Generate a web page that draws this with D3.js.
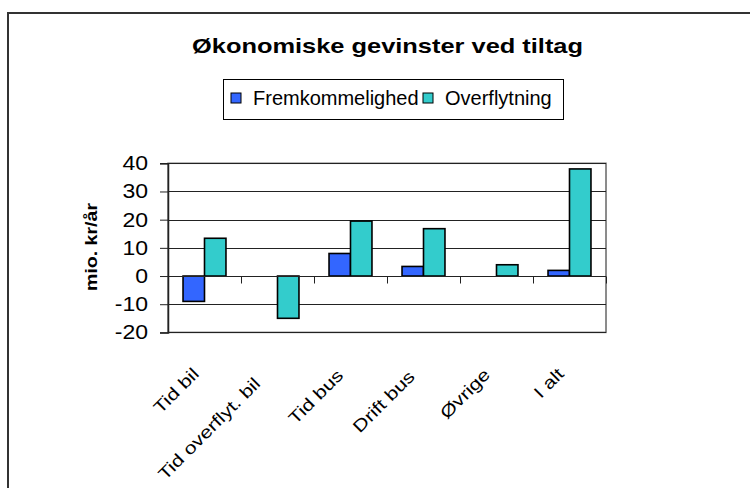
<!DOCTYPE html>
<html>
<head>
<meta charset="utf-8">
<script src="https://cdn.jsdelivr.net/npm/d3@7"></script>
<style>
  html, body { margin: 0; padding: 0; background: #fff; }
  svg { display: block; font-family: "Liberation Sans", Arial, sans-serif; }
</style>
</head>
<body>
<svg id="chart"></svg>
<script>
var categories = ["Tid bil", "Tid overflyt. bil", "Tid bus", "Drift bus", "Øvrige", "I alt"];
var seriesNames = ["Fremkommelighed", "Overflytning"];
var fremkommelighed = [-9, 0, 8, 3.4, 0, 2];
var overflytning = [13.4, -15, 19.5, 16.8, 4, 38];
var yTicks = [-20, -10, 0, 10, 20, 30, 40];
var seriesColors = ["#3366ff", "#33cccc"];

var iWidth = 750, iHeight = 488;
var oMargin = { top: 163.3, right: 144, bottom: 155.6, left: 168 };

var oSvg = d3.select("#chart").attr("width", iWidth).attr("height", iHeight);

// widen glyphs a bit, the source chart used a wide rendering of Arial
function stretch(oSel, k) {
  oSel.each(function () {
    var w = this.getComputedTextLength();
    d3.select(this).attr("textLength", w * k).attr("lengthAdjust", "spacingAndGlyphs");
  });
}

// outer chart border (runs off right/bottom)
oSvg.append("rect")
  .attr("x", 8).attr("y", 13)
  .attr("width", 760).attr("height", 500)
  .attr("fill", "none").attr("stroke", "#333").attr("stroke-width", 2);

// title
oSvg.append("text")
  .attr("x", 387.5).attr("y", 53)
  .attr("text-anchor", "middle")
  .attr("font-weight", "bold").attr("font-size", 21)
  .attr("textLength", 391).attr("lengthAdjust", "spacingAndGlyphs")
  .text("Økonomiske gevinster ved tiltag");

var aData = categories.map(function (c, i) {
  return { name: c, values: [fremkommelighed[i], overflytning[i]] };
});

var oScaleX = d3.scaleBand()
  .domain(categories)
  .range([oMargin.left, iWidth - oMargin.right])
  .padding(0);

var oScaleX1 = d3.scaleBand()
  .domain(seriesNames)
  .range([0, oScaleX.bandwidth()])
  .paddingInner(0).paddingOuter(0.7);

var oScaleY = d3.scaleLinear()
  .domain([-20, 40])
  .range([iHeight - oMargin.bottom, oMargin.top]);

var x0 = oMargin.left, x1 = iWidth - oMargin.right;

// plot area border
oSvg.append("rect")
  .attr("x", x0).attr("y", oScaleY(40))
  .attr("width", x1 - x0).attr("height", oScaleY(-20) - oScaleY(40))
  .attr("fill", "none").attr("stroke", "#666").attr("stroke-width", 1.5);

// gridlines
oSvg.append("g")
  .selectAll("line")
  .data(yTicks.filter(function (d) { return d !== 0; }))
  .enter().append("line")
  .attr("x1", x0).attr("x2", x1)
  .attr("y1", function (d) { return Math.round(oScaleY(d)) + 0.5; })
  .attr("y2", function (d) { return Math.round(oScaleY(d)) + 0.5; })
  .attr("stroke", "#222").attr("stroke-width", 1);

// y axis
var oYAxis = oSvg.append("g")
  .attr("transform", "translate(" + x0 + ",0)")
  .call(d3.axisLeft(oScaleY).tickValues(yTicks).tickSize(8).tickPadding(12)
    .tickFormat(function (d) { return String(d); }));
oYAxis.select(".domain").attr("stroke", "#222").attr("stroke-width", 1.5);
oYAxis.selectAll(".tick line").attr("stroke", "#222");
oYAxis.selectAll(".tick text")
  .attr("font-size", 20).attr("fill", "#000")
  .attr("font-family", "Liberation Sans, Arial, sans-serif")
  .call(stretch, 1.15);

// bars
var oGroups = oSvg.append("g")
  .selectAll("g")
  .data(aData)
  .enter().append("g")
  .attr("transform", function (d) { return "translate(" + oScaleX(d.name) + ",0)"; });

oGroups.selectAll("rect")
  .data(function (d) {
    return d.values.map(function (v, i) { return { key: seriesNames[i], value: v, i: i }; })
      .filter(function (o) { return o.value !== 0; });
  })
  .enter().append("rect")
  .attr("x", function (d) { return oScaleX1(d.key); })
  .attr("width", oScaleX1.bandwidth())
  .attr("y", function (d) { return oScaleY(Math.max(0, d.value)); })
  .attr("height", function (d) { return Math.abs(oScaleY(d.value) - oScaleY(0)); })
  .attr("fill", function (d) { return seriesColors[d.i]; })
  .attr("stroke", "#000").attr("stroke-width", 1.6);

// category axis at zero
var yZero = Math.round(oScaleY(0)) + 0.5;
oSvg.append("line")
  .attr("x1", x0).attr("x2", x1)
  .attr("y1", yZero).attr("y2", yZero)
  .attr("stroke", "#222").attr("stroke-width", 1.2);

oSvg.append("g")
  .selectAll("line")
  .data(categories)
  .enter().append("line")
  .attr("x1", function (d) { return Math.round(oScaleX(d) + oScaleX.bandwidth()) + 0.5; })
  .attr("x2", function (d) { return Math.round(oScaleX(d) + oScaleX.bandwidth()) + 0.5; })
  .attr("y1", yZero).attr("y2", yZero + 7)
  .attr("stroke", "#222");

// category labels, rotated; long labels slide a little further down
var kLabel = 1.25;
oSvg.append("g")
  .selectAll("text")
  .data(categories)
  .enter().append("text")
  .attr("text-anchor", "end")
  .attr("font-size", 17)
  .text(function (d) { return d; })
  .attr("transform", function (d) {
    var L = this.getComputedTextLength() * kLabel;
    var s = Math.max(0, L - 57);
    var cx = oScaleX(d) + oScaleX.bandwidth() / 2 - 4.5 - 0.146 * s;
    var cy = 375 + 0.123 * s;
    return "translate(" + cx + "," + cy + ") rotate(-45) scale(" + kLabel + ",1)";
  });

// y axis title
oSvg.append("text")
  .attr("transform", "translate(97,247) rotate(-90)")
  .attr("text-anchor", "middle")
  .attr("font-weight", "bold").attr("font-size", 17)
  .text("mio. kr/år")
  .call(stretch, 1.15);

// legend
var oLegend = oSvg.append("g");
oLegend.append("rect")
  .attr("x", 223.5).attr("y", 79.5).attr("width", 340).attr("height", 40)
  .attr("fill", "#fff").attr("stroke", "#000").attr("stroke-width", 1);
var aLegendX = [231, 423];
seriesNames.forEach(function (s, i) {
  oLegend.append("rect")
    .attr("x", aLegendX[i]).attr("y", 93).attr("width", 10).attr("height", 10)
    .attr("fill", seriesColors[i]).attr("stroke", "#000").attr("stroke-width", 1);
  oLegend.append("text")
    .attr("x", aLegendX[i] + 22).attr("y", 105)
    .attr("font-size", 20)
    .text(s);
});
</script>
</body>
</html>
